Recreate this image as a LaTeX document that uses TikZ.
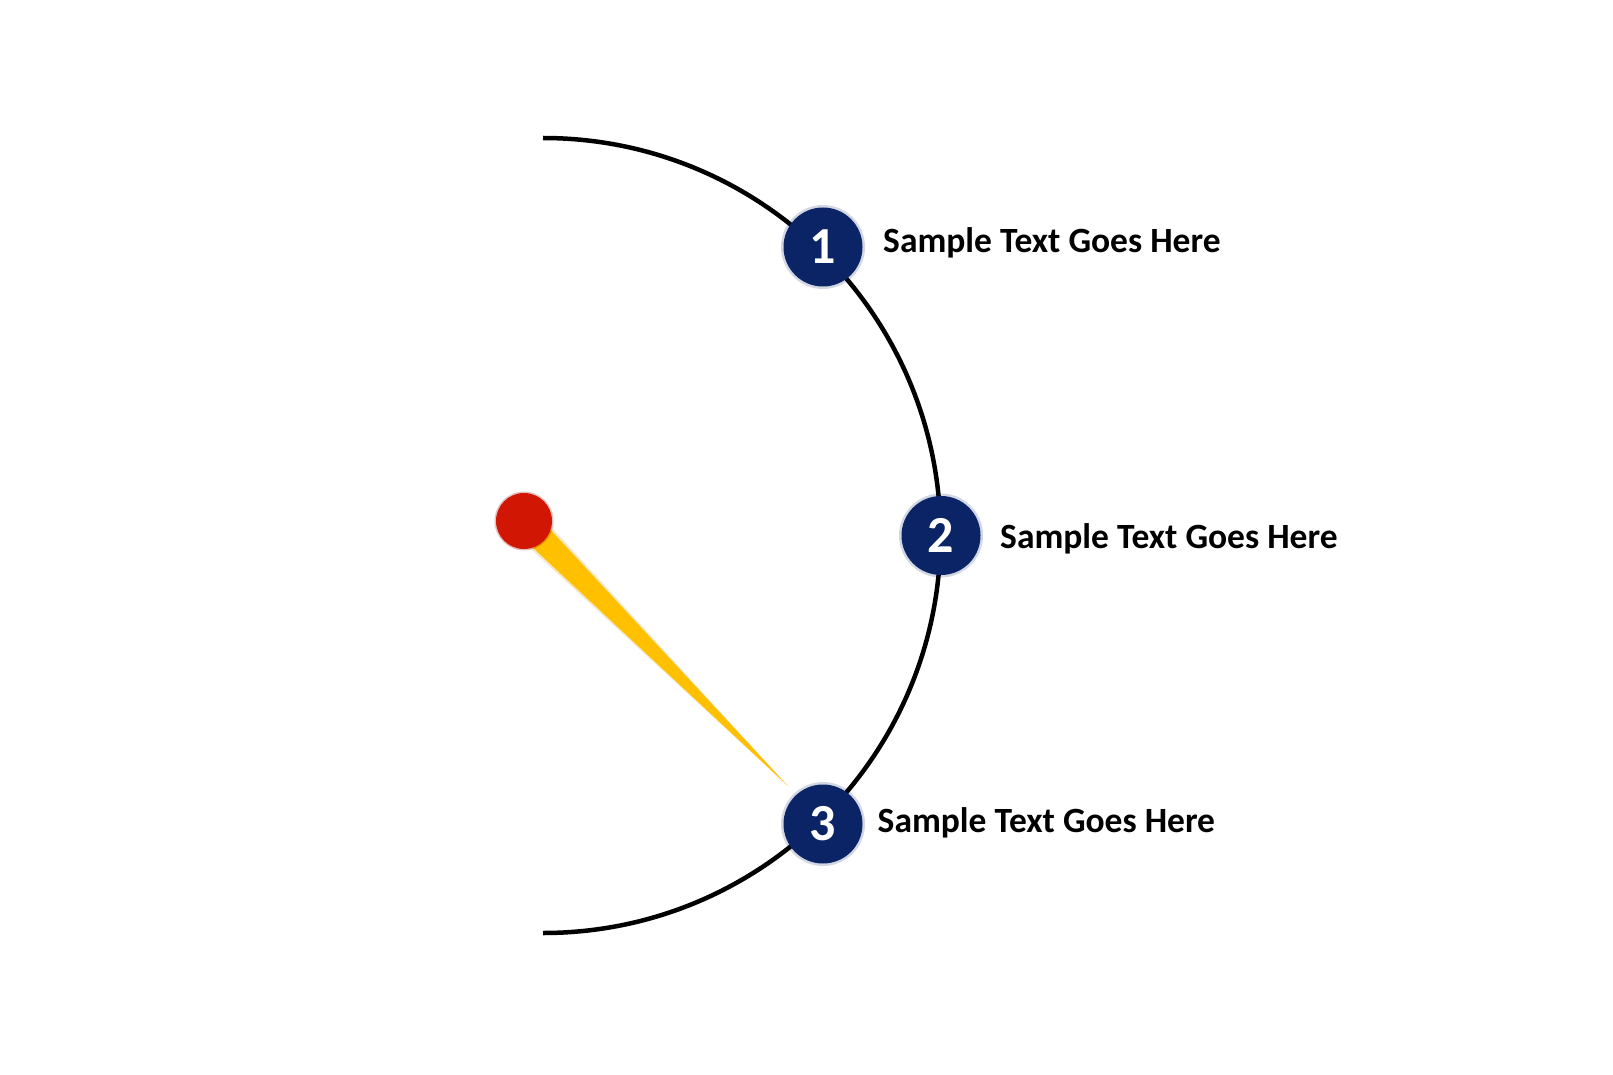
\documentclass[tikz,border=0pt]{standalone}
\usepackage{fontspec}
\setmainfont{Carlito}
\usetikzlibrary{calc}
\definecolor{navy}{RGB}{10,36,102}
\definecolor{pinred}{RGB}{210,22,4}
\definecolor{needleyellow}{RGB}{255,192,0}
\tikzset{
  track/.style={line width=4.5pt, black},
  stepdot/.style={circle, fill=navy, minimum size=79pt, inner sep=0pt,
    text=white, font=\fontsize{52}{52}\selectfont\bfseries},
  halo/.style={circle, fill=navy, opacity=0.18, minimum size=84pt, inner sep=0pt},
  caption/.style={anchor=base west, inner sep=0pt, text=black,
    font=\fontsize{35.5}{40}\selectfont\bfseries},
  needle/.style={fill=needleyellow},
  needleblur/.style={fill=needleyellow!80!black, opacity=0.22},
  pin/.style={circle, fill=pinred, minimum size=56pt, inner sep=0pt}
}
\begin{document}
\begin{tikzpicture}[x=1pt,y=-1pt]
  \useasboundingbox (0,0) rectangle (1613,1075);
  \fill[white] (0,0) rectangle (1613,1075);

  % half-circle track
  \coordinate (O) at (543,535.5);
  \draw[track] (543,138) arc[start angle=-90, end angle=90, radius=397.5];

  % needle and pivot
  \coordinate (T) at (787,785);
  \coordinate (R) at (524,521);
  \fill[needleblur] ($(R)!16pt!90:(T)$) -- ($(T)!-3pt!(R)$) -- ($(R)!16pt!-90:(T)$) -- cycle;
  \fill[needle] ($(R)!13.5pt!90:(T)$) -- (T) -- ($(R)!13.5pt!-90:(T)$) -- cycle;
  \node[circle, fill=pinred!70!black, opacity=0.25, minimum size=59pt, inner sep=0pt] at (R) {};
  \node[pin] (pivot) at (R) {};

  % numbered steps on the track
  \foreach \n/\p in {1/{(823,247)}, 2/{(941,535.5)}, 3/{(823,824)}}{
    \node[halo] at \p {};
    \node[stepdot] (s\n) at \p {\n};
  }

  % captions
  \node[caption] (t1) at (883,252) {Sample Text Goes Here};
  \node[caption] (t2) at (1000,548) {Sample Text Goes Here};
  \node[caption] (t3) at (877.5,832) {Sample Text Goes Here};
\end{tikzpicture}
\end{document}
